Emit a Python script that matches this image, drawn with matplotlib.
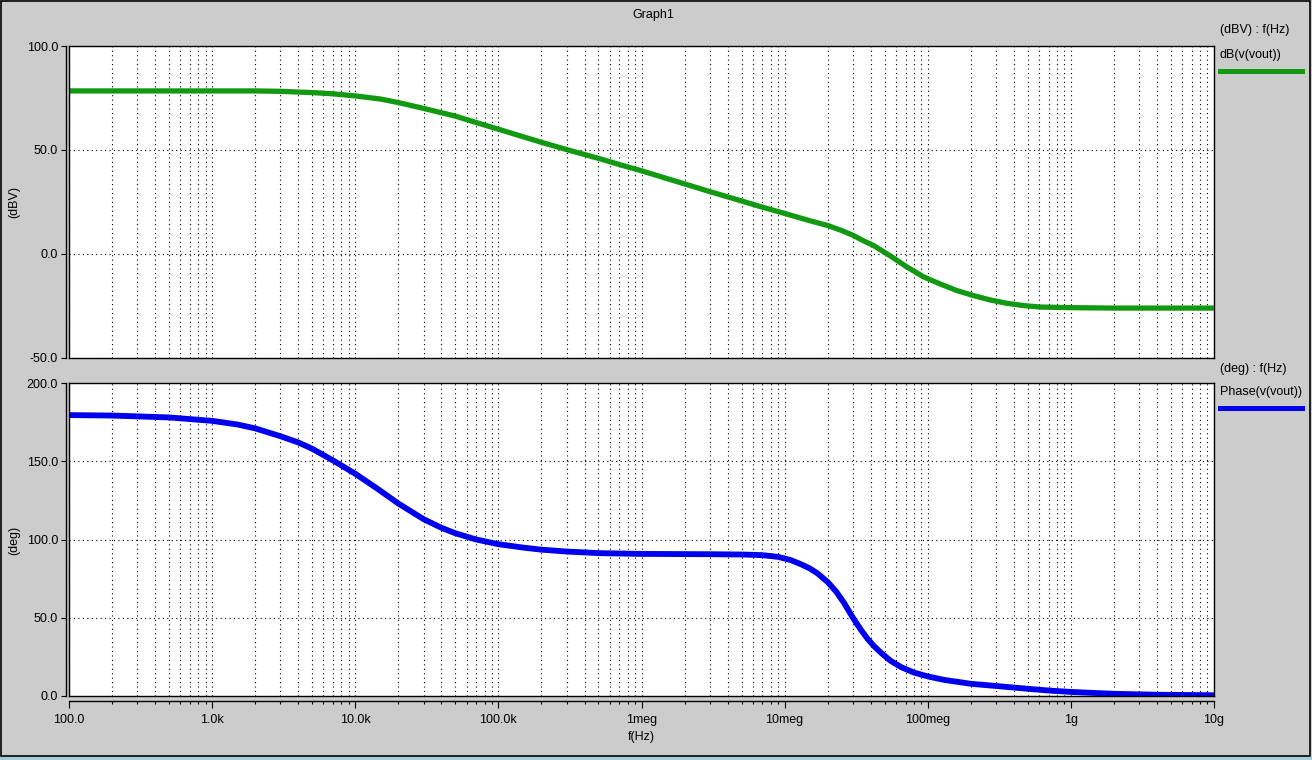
import numpy as np
import matplotlib
matplotlib.use("Agg")
import matplotlib.pyplot as plt
from matplotlib.lines import Line2D
from matplotlib.patches import Rectangle
from matplotlib.ticker import FixedLocator, FixedFormatter, NullFormatter

plt.rcParams['font.family'] = ['Liberation Sans', 'DejaVu Sans']

# gain: frequency (Hz) -> dB(v(vout))
gain_freq = [1e2, 1e3, 2e3, 3e3, 5e3, 7e3, 1e4, 1.5e4, 2e4, 3e4, 5e4, 7e4, 1e5, 1.5e5, 2e5, 3e5,
             5e5, 7e5, 1e6, 1.5e6, 2e6, 3e6, 5e6, 7e6, 1e7, 1.5e7, 2e7, 2.5e7, 3e7, 3.5e7,
             4.2e7, 5.5e7, 7.1e7, 9.3e7, 1.22e8, 1.6e8, 2.09e8, 2.73e8, 3.57e8, 4.67e8,
             6.1e8, 1e9, 2e9, 1e10]
gain_db = [78.4, 78.4, 78.4, 78.2, 77.6, 77.0, 76.0, 74.5, 72.8, 70.0, 66.3, 63.2, 60.0, 56.3, 53.7, 50.2,
           46.0, 43.0, 40.0, 36.3, 33.7, 30.0, 25.5, 22.5, 19.5, 16.0, 13.7, 11.3, 9.0, 6.6,
           4.0, -1.0, -6.1, -10.9, -14.4, -17.6, -20.0, -22.1, -23.7, -24.8,
           -25.5, -25.8, -26.0, -26.0]

# phase: frequency (Hz) -> Phase(v(vout))
phase_freq = [1e2, 2e2, 5e2, 1e3, 1.5e3, 2e3, 3e3, 4e3, 5e3, 7e3, 1e4, 1.4e4, 2e4, 3e4, 4e4, 5e4,
              7e4, 1e5, 1.5e5, 2e5, 3e5, 5e5, 1e6, 3e6, 5e6, 7e6, 9e6, 1.1e7, 1.3e7, 1.5e7,
              1.7e7, 2e7, 2.3e7, 2.6e7, 3e7, 3.4e7, 3.8e7, 4.2e7, 4.8e7, 5.5e7, 6.5e7, 8e7,
              1e8, 1.3e8, 2e8, 3e8, 5e8, 7e8, 1e9, 2e9, 4e9, 1e10]
phase_deg = [179.5, 179.2, 178.0, 175.8, 173.5, 171.0, 166.0, 162.0, 158.0, 150.5, 142.0, 133.0, 123.0, 113.0, 107.5, 104.0,
             100.0, 97.0, 94.8, 93.5, 92.3, 91.3, 90.8, 90.6, 90.4, 90.0, 88.9, 86.9, 84.2, 81.5,
             78.3, 72.8, 66.5, 59.5, 50.0, 42.5, 36.5, 32.0, 27.0, 22.5, 18.5, 15.0,
             12.5, 10.3, 7.8, 6.4, 4.6, 3.5, 2.6, 1.4, 0.8, 0.5]

x_ticks = [1e2, 1e3, 1e4, 1e5, 1e6, 1e7, 1e8, 1e9, 1e10]
x_labels = ['100.0', '1.0k', '10.0k', '100.0k', '1meg', '10meg', '100meg', '1g', '10g']
gain_ticks = [-50, 0, 50, 100]
phase_ticks = [0, 50, 100, 150, 200]

W, H = 1312, 760
BG = '#cccccc'
FS = 9
fig = plt.figure(figsize=(W / 100, H / 100), dpi=100, facecolor=BG)


def px_axes(l, t, r, b):
    return fig.add_axes([l / W, 1 - b / H, (r - l) / W, (b - t) / H])


def style(ax, yticks, ylim):
    ax.set_facecolor('white')
    ax.set_xscale('log')
    ax.set_xlim(1e2, 1e10)
    ax.set_ylim(*ylim)
    ax.yaxis.set_major_locator(FixedLocator(yticks))
    ax.set_yticklabels(['%.1f' % v for v in yticks])
    ax.grid(True, which='both', axis='x', color='black', lw=0.8, linestyle=(0, (1, 3)))
    ax.grid(True, which='major', axis='y', color='black', lw=0.8, linestyle=(0, (1, 3)))
    for s in ax.spines.values():
        s.set_linewidth(1.0)
    ax.spines['left'].set_position(('outward', 2.2))
    ax.axvline(1e2, color='black', lw=1.0, clip_on=False, zorder=5)
    ax.tick_params(axis='y', direction='out', length=3.6, width=0.8, labelsize=FS, pad=2)


ax1 = px_axes(69, 46, 1214, 358)
style(ax1, gain_ticks, (-50, 100))
ax1.tick_params(axis='x', which='both', bottom=False, labelbottom=False)
ax1.plot(gain_freq, gain_db, color='#119911', lw=3.8, solid_capstyle='butt', zorder=4)

ax2 = px_axes(69, 383, 1214, 696)
style(ax2, phase_ticks, (0, 200))
ax2.spines['bottom'].set_position(('outward', 3.8))
ax2.axhline(0, color='black', lw=1.0, clip_on=False, zorder=5)
ax2.xaxis.set_major_locator(FixedLocator(x_ticks))
ax2.xaxis.set_major_formatter(FixedFormatter(x_labels))
ax2.xaxis.set_minor_formatter(NullFormatter())
ax2.tick_params(axis='x', which='major', direction='out', length=5, width=0.8, labelsize=FS, pad=4)
ax2.tick_params(axis='x', which='minor', direction='out', length=2.5, width=0.8)
ax2.plot(phase_freq, phase_deg, color='#0000ee', lw=4.2, solid_capstyle='butt', zorder=4)

# texts around the panels
fig.text(653 / W, 1 - 15 / H, 'Graph1', ha='center', va='center', fontsize=FS)
fig.text(641 / W, 1 - 737 / H, 'f(Hz)', ha='center', va='center', fontsize=FS)
fig.text(14 / W, 1 - 202 / H, '(dBV)', ha='center', va='center', rotation=90, fontsize=FS)
fig.text(14 / W, 1 - 540 / H, '(deg)', ha='center', va='center', rotation=90, fontsize=FS)

fig.text(1220 / W, 1 - 30 / H, '(dBV) : f(Hz)', ha='left', va='center', fontsize=FS)
fig.text(1220 / W, 1 - 55 / H, 'dB(v(vout))', ha='left', va='center', fontsize=FS)
fig.add_artist(Line2D([1220 / W, 1302 / W], [1 - 71 / H, 1 - 71 / H], color='#119911', lw=3.6))
fig.text(1220 / W, 1 - 369 / H, '(deg) : f(Hz)', ha='left', va='center', fontsize=FS)
fig.text(1220 / W, 1 - 392 / H, 'Phase(v(vout))', ha='left', va='center', fontsize=FS)
fig.add_artist(Line2D([1220 / W, 1302 / W], [1 - 408 / H, 1 - 408 / H], color='#0000ee', lw=3.6))

# window frame and the blue strip at the bottom
fig.add_artist(Rectangle((0, 0), 1, 3 / H, transform=fig.transFigure, facecolor='#a8ccd8', edgecolor='none'))
fig.add_artist(Rectangle((0.5 / W, 4 / H), 1 - 2.5 / W, 1 - 4.5 / H, transform=fig.transFigure,
                         facecolor='none', edgecolor='black', lw=1.2))

fig.savefig('out.png', dpi=100, facecolor=BG)
